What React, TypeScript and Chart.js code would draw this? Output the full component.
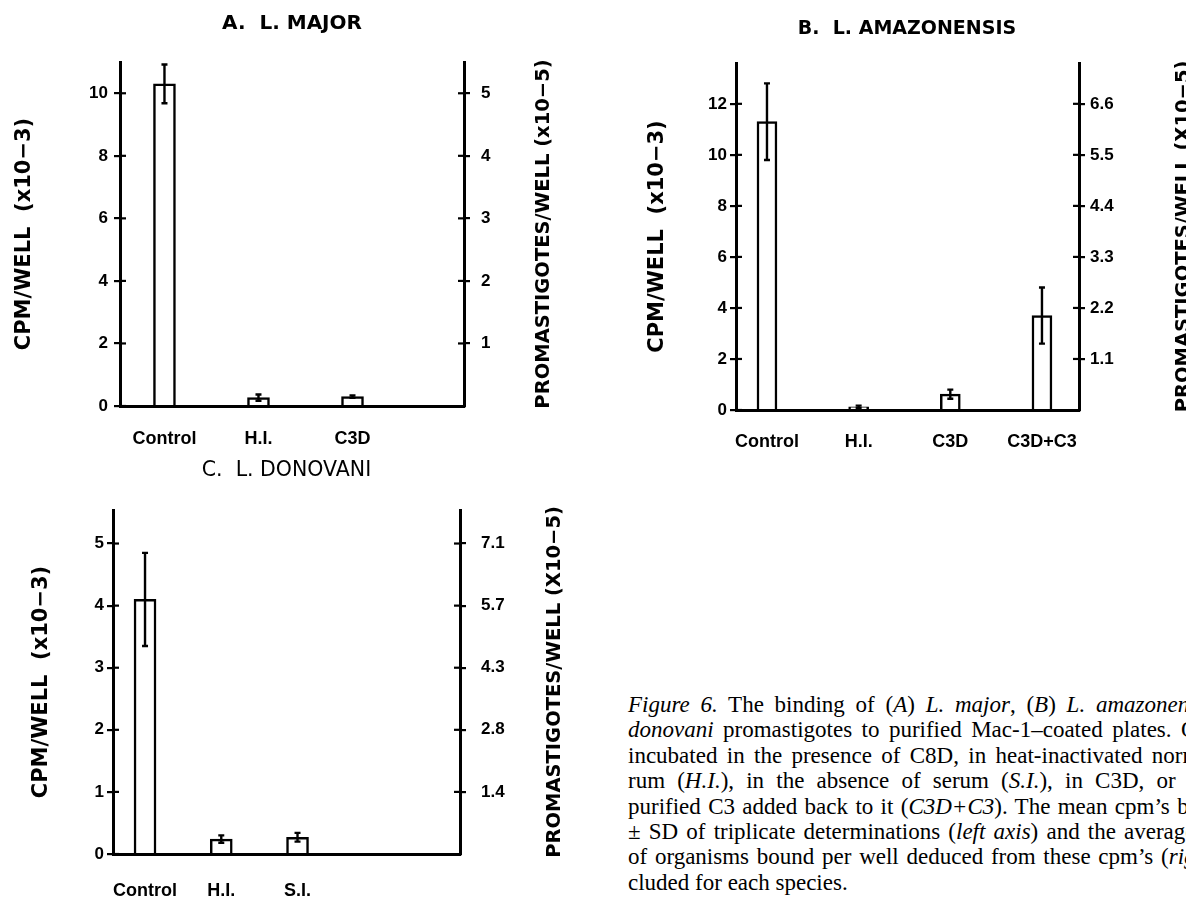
import React, { useEffect, useRef } from 'react';
import { Chart, registerables } from 'chart.js';

Chart.register(...registerables);
Chart.defaults.color = '#000';

// ---------- Data: panel A (L. major) ----------
const catsA = ['Control', 'H.I.', 'C3D'];
const meanA = [10.3, 0.27, 0.3];
const sdA = [0.62, 0.1, 0.04];
const leftTicksA = [0, 2, 4, 6, 8, 10];
const rightTicksA = [1, 2, 3, 4, 5];
const rightLabelsA = ['1', '2', '3', '4', '5'];

// ---------- Data: panel B (L. amazonensis) ----------
const catsB = ['Control', 'H.I.', 'C3D', 'C3D+C3'];
const meanB = [11.3, 0.12, 0.62, 3.7];
const sdB = [1.5, 0.05, 0.18, 1.1];
const leftTicksB = [0, 2, 4, 6, 8, 10, 12];
const rightTicksB = [1.1, 2.2, 3.3, 4.4, 5.5, 6.6];
const rightLabelsB = ['1.1', '2.2', '3.3', '4.4', '5.5', '6.6'];

// ---------- Data: panel C (L. donovani) ----------
const catsC = ['Control', 'H.I.', 'S.I.'];
const meanC = [4.1, 0.24, 0.27];
const sdC = [0.75, 0.06, 0.07];
const leftTicksC = [0, 1, 2, 3, 4, 5];
const rightTicksC = [1.42, 2.84, 4.26, 5.68, 7.1];
const rightLabelsC = ['1.4', '2.8', '4.3', '5.7', '7.1'];

type PanelCfg = {
  cats: string[]; mean: number[]; sd: number[];
  leftTicks: number[]; rightTicks: number[]; rightLabels: string[];
  yMax: number; rightFactor: number; xMin: number; xMax: number;
  box: { x: number; y: number; w: number; h: number };
  leftW: number; rightW: number; xH: number;
  title: string; titleSize: number; titleWeight: string; titlePt: number; titlePb: number;
  leftTitle: string; leftTitlePt: number;
  rightTitle: string; rightTitleOffset: number;
  leftPad: number; rightPad: number; xPad: number; barThickness: number;
};

const panels: PanelCfg[] = [
  {
    cats: catsA, mean: meanA, sd: sdA, leftTicks: leftTicksA, rightTicks: rightTicksA, rightLabels: rightLabelsA,
    yMax: 11, rightFactor: 0.5, xMin: -0.473, xMax: 3.186,
    box: { x: 0, y: 0, w: 584, h: 460 }, leftW: 120, rightW: 120, xH: 54,
    title: 'A.  L. MAJOR', titleSize: 20, titleWeight: 'bold', titlePt: 11.5, titlePb: 26.5,
    leftTitle: 'CPM/WELL  (x10\u22123)', leftTitlePt: 12.4,
    rightTitle: 'PROMASTIGOTES/WELL (x10\u22125)', rightTitleOffset: 80,
    leftPad: 6, rightPad: 11, xPad: 22.2, barThickness: 22,
  },
  {
    cats: catsB, mean: meanB, sd: sdB, leftTicks: leftTicksB, rightTicks: rightTicksB, rightLabels: rightLabelsB,
    yMax: 13.6, rightFactor: 0.55, xMin: -0.338, xMax: 3.404,
    box: { x: 626, y: 0, w: 562, h: 470 }, leftW: 110, rightW: 109, xH: 60,
    title: 'B.  L. AMAZONENSIS', titleSize: 19, titleWeight: 'bold', titlePt: 17.6, titlePb: 22.6,
    leftTitle: 'CPM/WELL  (x10\u22123)', leftTitlePt: 19.4,
    rightTitle: 'PROMASTIGOTES/WELL (X10\u22125)', rightTitleOffset: 105,
    leftPad: 3, rightPad: 5, xPad: 21.7, barThickness: 20,
  },
  {
    cats: catsC, mean: meanC, sd: sdC, leftTicks: leftTicksC, rightTicks: rightTicksC, rightLabels: rightLabelsC,
    yMax: 5.54, rightFactor: 1.42, xMin: -0.42, xMax: 4.131,
    box: { x: 0, y: 440, w: 573, h: 461 }, leftW: 113, rightW: 113, xH: 47,
    title: 'C.  L. DONOVANI', titleSize: 20.5, titleWeight: 'normal', titlePt: 18.7, titlePb: 26.7,
    leftTitle: 'CPM/WELL  (x10\u22123)', leftTitlePt: 29.4,
    rightTitle: 'PROMASTIGOTES/WELL (X10\u22125)', rightTitleOffset: 95,
    leftPad: 3, rightPad: 15, xPad: 26.2, barThickness: 22,
  },
];

function makeExtras(cfg: PanelCfg) {
  return {
    id: 'figureExtras',
    afterDatasetsDraw(chart: any) {
      const ctx = chart.ctx;
      const meta = chart.getDatasetMeta(0);
      const ys = chart.scales.y;
      ctx.save();
      ctx.strokeStyle = '#000';
      ctx.lineWidth = 2.4;
      meta.data.forEach((bar: any, i: number) => {
        const v = cfg.mean[i];
        const s = cfg.sd[i];
        const x = bar.x;
        const yt = ys.getPixelForValue(v + s);
        const yb = ys.getPixelForValue(Math.max(v - s, 0));
        ctx.beginPath();
        ctx.moveTo(x, yt); ctx.lineTo(x, yb);
        ctx.moveTo(x - 3, yt); ctx.lineTo(x + 3, yt);
        ctx.moveTo(x - 3, yb); ctx.lineTo(x + 3, yb);
        ctx.stroke();
      });
      ctx.restore();
    },
    afterDraw(chart: any) {
      const ctx = chart.ctx;
      const ca = chart.chartArea;
      ctx.save();
      ctx.strokeStyle = '#000';
      ctx.lineWidth = 2.2;
      (['y', 'y1'] as const).forEach((id) => {
        const sc = chart.scales[id];
        const x0 = id === 'y' ? ca.left : ca.right;
        const dir = id === 'y' ? 1 : -1;
        sc.ticks.forEach((t: any) => {
          const p = sc.getPixelForValue(t.value);
          ctx.beginPath();
          ctx.moveTo(x0, p);
          ctx.lineTo(x0 + dir * 6, p);
          ctx.stroke();
        });
      });
      ctx.fillStyle = '#000';
      ctx.font = 'bold 19.5px "DejaVu Sans"';
      ctx.textAlign = 'center';
      ctx.textBaseline = 'middle';
      ctx.translate(ca.right + cfg.rightTitleOffset, (ca.top + ca.bottom) / 2);
      ctx.rotate(-Math.PI / 2);
      ctx.fillText(cfg.rightTitle, 0, 0);
      ctx.restore();
    },
  };
}

const tickFont = { family: 'Liberation Sans', size: 17, weight: 'bold' as const };
const catFont = { family: 'Liberation Sans', size: 18, weight: 'bold' as const };

function Panel({ cfg }: { cfg: PanelCfg }) {
  const ref = useRef<HTMLCanvasElement>(null);
  useEffect(() => {
    const chart = new Chart(ref.current as HTMLCanvasElement, {
      type: 'bar',
      data: {
        datasets: [
          {
            data: cfg.mean.map((v, i) => ({ x: i, y: v })),
            backgroundColor: '#ffffff',
            borderColor: '#000000',
            borderWidth: 2.5,
            barThickness: cfg.barThickness,
          } as any,
        ],
      },
      options: {
        responsive: false,
        animation: false,
        devicePixelRatio: 1,
        layout: { padding: 0 },
        plugins: {
          legend: { display: false },
          tooltip: { enabled: false },
          title: {
            display: true,
            text: cfg.title,
            color: '#000',
            font: { family: 'DejaVu Sans', size: cfg.titleSize, weight: cfg.titleWeight as any },
            padding: { top: cfg.titlePt, bottom: cfg.titlePb },
          },
        },
        scales: {
          x: {
            type: 'linear',
            min: cfg.xMin,
            max: cfg.xMax,
            offset: false,
            grid: { display: false, drawTicks: false, offset: false },
            border: { display: true, color: '#000', width: 3 },
            afterBuildTicks: (s: any) => { s.ticks = cfg.cats.map((_, i) => ({ value: i })); },
            afterFit: (s: any) => { s.height = cfg.xH; },
            ticks: {
              color: '#000',
              font: catFont,
              padding: cfg.xPad,
              maxRotation: 0,
              autoSkip: false,
              callback: (v: any) => cfg.cats[Math.round(Number(v))] ?? '',
            },
          },
          y: {
            type: 'linear',
            position: 'left',
            min: 0,
            max: cfg.yMax,
            grid: { display: true, drawOnChartArea: false, drawTicks: true, tickLength: 6, color: '#000', lineWidth: 2.2 },
            border: { display: true, color: '#000', width: 3 },
            afterBuildTicks: (s: any) => { s.ticks = cfg.leftTicks.map((v) => ({ value: v })); },
            afterFit: (s: any) => { s.width = cfg.leftW; },
            ticks: { color: '#000', font: tickFont, padding: cfg.leftPad, callback: (v: any) => String(v) },
            title: {
              display: true,
              text: cfg.leftTitle,
              color: '#000',
              font: { family: 'DejaVu Sans', size: 21, weight: 'bold' },
              padding: { top: cfg.leftTitlePt, bottom: 0 },
            },
          },
          y1: {
            type: 'linear',
            position: 'right',
            min: 0,
            max: cfg.yMax * cfg.rightFactor,
            grid: { display: true, drawOnChartArea: false, drawTicks: true, tickLength: 6, color: '#000', lineWidth: 2.2 },
            border: { display: true, color: '#000', width: 3 },
            afterBuildTicks: (s: any) => { s.ticks = cfg.rightTicks.map((v) => ({ value: v })); },
            afterFit: (s: any) => { s.width = cfg.rightW; },
            ticks: {
              color: '#000',
              font: tickFont,
              padding: cfg.rightPad,
              callback: (_v: any, i: number) => cfg.rightLabels[i] ?? '',
            },
          },
        },
      } as any,
      plugins: [makeExtras(cfg)],
    });
    return () => chart.destroy();
  }, [cfg]);
  return (
    <canvas
      ref={ref}
      width={cfg.box.w}
      height={cfg.box.h}
      style={{ position: 'absolute', left: cfg.box.x, top: cfg.box.y, width: cfg.box.w, height: cfg.box.h }}
    />
  );
}

const captionLine: React.CSSProperties = { whiteSpace: 'nowrap', height: 25.4 };

export default function App() {
  return (
    <div
      style={{
        position: 'absolute', left: 0, top: 0, width: 1186, height: 901,
        overflow: 'hidden', background: '#fff',
      }}
    >
      {panels.map((p, i) => (
        <Panel key={i} cfg={p} />
      ))}
      <div
        style={{
          position: 'absolute', left: 628, top: 692, fontFamily: '"Liberation Serif", serif',
          fontSize: 23, lineHeight: '25.4px', color: '#000',
        }}
      >
        <div style={{ ...captionLine, wordSpacing: 5.0 }}>
          <i>Figure 6.</i> The binding of (<i>A</i>) <i>L. major</i>, (<i>B</i>) <i>L. amazonensis</i>
        </div>
        <div style={{ ...captionLine, wordSpacing: 3.7 }}>
          <i>donovani</i> promastigotes to purified Mac-1–coated plates. Organisms
        </div>
        <div style={{ ...captionLine, wordSpacing: 3.6 }}>
          incubated in the presence of C8D, in heat-inactivated normal
        </div>
        <div style={{ ...captionLine, wordSpacing: 6.4 }}>
          rum (<i>H.I.</i>), in the absence of serum (<i>S.I.</i>), in C3D, or
        </div>
        <div style={{ ...captionLine, wordSpacing: 1.6 }}>
          purified C3 added back to it (<i>C3D+C3</i>). The mean cpm’s bound
        </div>
        <div style={{ ...captionLine, wordSpacing: 2.4 }}>
          ± SD of triplicate determinations (<i>left axis</i>) and the average
        </div>
        <div style={{ ...captionLine, wordSpacing: 2.0 }}>
          of organisms bound per well deduced from these cpm’s (<i>right</i>
        </div>
        <div style={captionLine}>cluded for each species.</div>
      </div>
    </div>
  );
}
